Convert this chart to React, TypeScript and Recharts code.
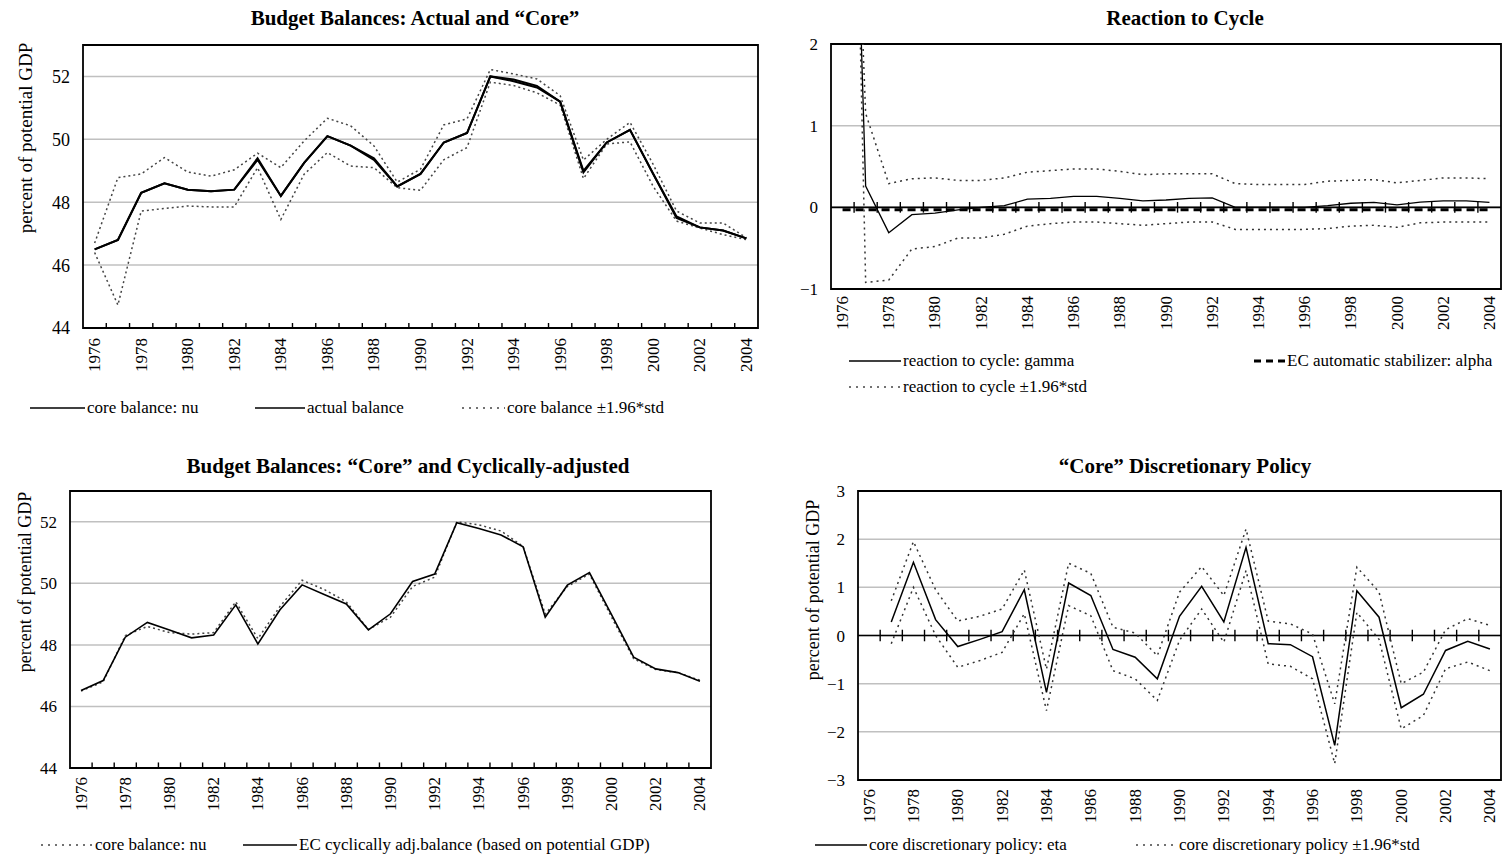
// four-panel budget balance chart

import { LineChart, Line, XAxis, YAxis, CartesianGrid, ReferenceLine, ReferenceArea } from "recharts";

const FONT = '"Liberation Serif", "Times New Roman", serif';

const years = [1976, 1977, 1978, 1979, 1980, 1981, 1982, 1983, 1984, 1985, 1986, 1987, 1988, 1989, 1990,
  1991, 1992, 1993, 1994, 1995, 1996, 1997, 1998, 1999, 2000, 2001, 2002, 2003, 2004];
const yearTicks = [1976, 1978, 1980, 1982, 1984, 1986, 1988, 1990, 1992, 1994, 1996, 1998, 2000, 2002, 2004];

// panel 1 / 3 : balances, % of potential GDP
const coreNu = [46.5, 46.8, 48.3, 48.6, 48.4, 48.35, 48.4, 49.4, 48.2, 49.25, 50.1, 49.8, 49.4, 48.5, 48.9,
  49.9, 50.2, 52.0, 51.9, 51.7, 51.2, 49.0, 49.9, 50.3, 48.9, 47.55, 47.2, 47.1, 46.85];
const actualBalance = [46.5, 46.8, 48.3, 48.6, 48.4, 48.35, 48.4, 49.35, 48.2, 49.25, 50.1, 49.8, 49.35, 48.5, 48.9,
  49.9, 50.2, 52.0, 51.85, 51.65, 51.2, 48.95, 49.9, 50.3, 48.9, 47.5, 47.2, 47.1, 46.85];
const coreUpper = [46.7, 48.78, 48.9, 49.42, 48.96, 48.83, 49.03, 49.56, 49.1, 49.95, 50.67, 50.43, 49.79, 48.64, 49.05,
  50.46, 50.65, 52.22, 52.08, 51.92, 51.39, 49.34, 50.0, 50.54, 49.2, 47.72, 47.34, 47.34, 46.87];
const coreLower = [46.4, 44.73, 47.72, 47.8, 47.88, 47.85, 47.85, 49.1, 47.45, 48.89, 49.58, 49.15, 49.1, 48.46, 48.38,
  49.35, 49.74, 51.82, 51.71, 51.48, 51.09, 48.75, 49.85, 49.92, 48.5, 47.4, 47.18, 46.97, 46.81];
const ecCab = [46.52, 46.84, 48.25, 48.73, 48.48, 48.23, 48.32, 49.3, 48.03, 49.14, 49.95, 49.64, 49.33, 48.49, 49.01,
  50.06, 50.3, 51.97, 51.78, 51.57, 51.19, 48.9, 49.94, 50.35, 48.98, 47.6, 47.22, 47.1, 46.82];

// panel 2 : reaction to cycle
const gamma = [9.6, 0.26, -0.31, -0.09, -0.07, -0.03, 0.0, 0.02, 0.1, 0.11, 0.135, 0.135, 0.11, 0.08, 0.09,
  0.11, 0.115, 0.0, 0.0, 0.0, 0.0, 0.02, 0.05, 0.06, 0.03, 0.065, 0.08, 0.08, 0.06];
const gammaUpper = [8.4, 1.15, 0.29, 0.35, 0.36, 0.33, 0.33, 0.36, 0.43, 0.45, 0.47, 0.47, 0.44, 0.4, 0.41,
  0.41, 0.41, 0.29, 0.28, 0.28, 0.28, 0.32, 0.33, 0.34, 0.3, 0.33, 0.36, 0.36, 0.35];
const gammaLower = [11.8, -0.92, -0.89, -0.51, -0.48, -0.375, -0.375, -0.33, -0.23, -0.2, -0.18, -0.18, -0.2, -0.22, -0.2,
  -0.18, -0.18, -0.27, -0.27, -0.27, -0.27, -0.26, -0.23, -0.22, -0.245, -0.19, -0.18, -0.18, -0.18];
const alpha = [-0.03, -0.03, -0.03, -0.03, -0.03, -0.03, -0.03, -0.03, -0.03, -0.03, -0.03, -0.03, -0.03, -0.03, -0.03,
  -0.03, -0.03, -0.03, -0.03, -0.03, -0.03, -0.03, -0.03, -0.03, -0.03, -0.03, -0.03, -0.03, -0.03];

// panel 4 : discretionary policy
const eta = [null, 0.28, 1.52, 0.33, -0.23, -0.08, 0.08, 0.95, -1.18, 1.09, 0.83, -0.29, -0.45, -0.9, 0.4,
  1.02, 0.28, 1.83, -0.17, -0.19, -0.44, -2.28, 0.93, 0.38, -1.5, -1.22, -0.31, -0.12, -0.28];
const etaUpper = [null, 0.72, 1.95, 0.95, 0.3, 0.4, 0.55, 1.36, -0.7, 1.5, 1.29, 0.17, 0.05, -0.42, 0.9,
  1.43, 0.83, 2.21, 0.3, 0.24, 0.03, -1.42, 1.42, 0.9, -1.0, -0.76, 0.12, 0.35, 0.21];
const etaLower = [null, -0.17, 1.0, 0.0, -0.66, -0.52, -0.35, 0.45, -1.56, 0.62, 0.41, -0.73, -0.9, -1.35, -0.1,
  0.55, -0.14, 1.35, -0.59, -0.64, -0.9, -2.66, 0.48, -0.08, -1.94, -1.66, -0.69, -0.55, -0.73];

const rows = years.map((year, i) => ({
  year,
  coreNu: coreNu[i],
  actual: actualBalance[i],
  coreUp: coreUpper[i],
  coreLo: coreLower[i],
  ecCab: ecCab[i],
  gamma: gamma[i],
  gammaUp: gammaUpper[i],
  gammaLo: gammaLower[i],
  alpha: alpha[i],
  eta: eta[i],
  etaUp: etaUpper[i],
  etaLo: etaLower[i],
}));

// category boundaries, where Excel puts its tick marks
const boundaries = years.slice(0, -1).map((y) => y + 0.5);

const fmt = (v: number) => (v < 0 ? "\u2212" + Math.abs(v) : String(v));

function YearTick({ x, y, payload }: any) {
  return (
    <text x={x} y={y} transform={`rotate(-90 ${x} ${y})`} textAnchor="end" dominantBaseline="central"
      fontSize={17} fontFamily={FONT} fill="#000">
      {payload.value}
    </text>
  );
}

// shared frame: grid, axes, border, tick marks
function frame(domain: number[], yTicks: number[], yWidth: number, xHeight: number, gap: number,
  markLo: number, markHi: number, zero: boolean, yFont: number) {
  return [
    <CartesianGrid key="grid" horizontal vertical={false} stroke="#c0c0c0" strokeWidth={1.5} />,
    <XAxis key="x" dataKey="year" type="number" domain={[1975.5, 2004.5]} ticks={yearTicks} interval={0}
      tick={(p: any) => <YearTick {...p} />} tickLine={false} axisLine={false} tickSize={0} tickMargin={gap}
      height={xHeight} allowDataOverflow />,
    <YAxis key="y" type="number" domain={domain} ticks={yTicks} interval={0} allowDataOverflow width={yWidth}
      tickLine={false} axisLine={false} tickSize={6} tickMargin={7}
      tick={{ fontSize: yFont, fill: "#000", fontFamily: FONT }} tickFormatter={fmt} />,
    <ReferenceArea key="border" x1={1975.5} x2={2004.5} y1={domain[0]} y2={domain[1]}
      fill="none" fillOpacity={0} stroke="#000" strokeWidth={1.8} />,
    zero ? <ReferenceLine key="zero" y={0} stroke="#000" strokeWidth={1.6} /> : null,
    ...boundaries.map((b) => (
      <ReferenceLine key={"m" + b} segment={[{ x: b, y: markLo }, { x: b, y: markHi }]} stroke="#000" strokeWidth={1.4} />
    )),
  ];
}

function Title({ x, y, text }: { x: number; y: number; text: string }) {
  return (
    <div style={{ position: "absolute", left: x, top: y, transform: "translate(-50%, -50%)",
      fontWeight: "bold", fontSize: 21, whiteSpace: "nowrap" }}>
      {text}
    </div>
  );
}

function VLabel({ x, y, text, size }: { x: number; y: number; text: string; size: number }) {
  return (
    <div style={{ position: "absolute", left: x, top: y, transform: "translate(-50%, -50%) rotate(-90deg)",
      fontSize: size, whiteSpace: "nowrap" }}>
      {text}
    </div>
  );
}

type Kind = "solid" | "dotted" | "dashed";

function Key({ x, y, w, kind, text }: { x: number; y: number; w: number; kind: Kind; text: string }) {
  const dash = kind === "dotted" ? "2 5" : kind === "dashed" ? "7 5" : undefined;
  return (
    <div style={{ position: "absolute", left: x, top: y, transform: "translateY(-50%)", display: "flex",
      alignItems: "center", fontSize: 17, whiteSpace: "nowrap" }}>
      <svg width={w} height={10} style={{ marginRight: 2 }}>
        <line x1={0} x2={w} y1={5} y2={5} stroke={kind === "dotted" ? "#444" : "#000"}
          strokeWidth={kind === "dashed" ? 3 : 1.5} strokeDasharray={dash} />
      </svg>
      {text}
    </div>
  );
}

const dotted = { stroke: "#444", strokeWidth: 1.5, strokeDasharray: "2 3" };

export default function App() {
  return (
    <div style={{ position: "absolute", left: 0, top: 0, width: 1506, height: 862, background: "#fff",
      fontFamily: FONT, color: "#000" }}>
      <Title x={415} y={18} text="Budget Balances: Actual and “Core”" />
      <Title x={1185} y={18} text="Reaction to Cycle" />
      <Title x={408} y={466} text="Budget Balances: “Core” and Cyclically-adjusted" />
      <Title x={1185} y={466} text="“Core” Discretionary Policy" />

      <VLabel x={26} y={138} size={19} text="percent of potential GDP" />
      <VLabel x={25} y={582} size={18} text="percent of potential GDP" />
      <VLabel x={813} y={590} size={18} text="percent of potential GDP" />

      {/* top left */}
      <div style={{ position: "absolute", left: 0, top: 0 }}>
        <LineChart width={770} height={390} data={rows} margin={{ top: 45, right: 12, bottom: 7, left: 0 }}>
          {frame([44, 53], [44, 46, 48, 50, 52], 83, 55, 10, 44, 44.16, false, 18)}
          <Line dataKey="coreUp" dot={false} isAnimationActive={false} {...dotted} />
          <Line dataKey="coreLo" dot={false} isAnimationActive={false} {...dotted} />
          <Line dataKey="actual" dot={false} isAnimationActive={false} stroke="#000" strokeWidth={2} />
          <Line dataKey="coreNu" dot={false} isAnimationActive={false} stroke="#000" strokeWidth={2} />
        </LineChart>
      </div>

      {/* top right */}
      <div style={{ position: "absolute", left: 770, top: 0 }}>
        <LineChart width={736} height={340} data={rows} margin={{ top: 44, right: 5, bottom: 3, left: 0 }}>
          {frame([-1, 2], [-1, 0, 1, 2], 61, 48, 7, -0.065, 0.065, true, 17)}
          <Line dataKey="alpha" dot={false} isAnimationActive={false} stroke="#000" strokeWidth={3} strokeDasharray="8 5" />
          <Line dataKey="gammaUp" dot={false} isAnimationActive={false} stroke="#333" strokeWidth={1.5} strokeDasharray="2 4" />
          <Line dataKey="gammaLo" dot={false} isAnimationActive={false} stroke="#333" strokeWidth={1.5} strokeDasharray="2 4" />
          <Line dataKey="gamma" dot={false} isAnimationActive={false} stroke="#000" strokeWidth={1.3} />
        </LineChart>
      </div>

      {/* bottom left */}
      <div style={{ position: "absolute", left: 0, top: 450 }}>
        <LineChart width={760} height={380} data={rows} margin={{ top: 41, right: 49, bottom: 7, left: 0 }}>
          {frame([44, 53], [44, 46, 48, 50, 52], 70, 55, 9, 44, 44.18, false, 17)}
          <Line dataKey="coreNu" dot={false} isAnimationActive={false} {...dotted} />
          <Line dataKey="ecCab" dot={false} isAnimationActive={false} stroke="#000" strokeWidth={1.6} />
        </LineChart>
      </div>

      {/* bottom right */}
      <div style={{ position: "absolute", left: 770, top: 450 }}>
        <LineChart width={736} height={380} data={rows} margin={{ top: 41, right: 5, bottom: 5, left: 0 }}>
          {frame([-3, 3], [-3, -2, -1, 0, 1, 2, 3], 88, 45, 9, -0.12, 0.12, true, 17)}
          <Line dataKey="etaUp" dot={false} isAnimationActive={false} stroke="#333" strokeWidth={1.5} strokeDasharray="2 4" />
          <Line dataKey="etaLo" dot={false} isAnimationActive={false} stroke="#333" strokeWidth={1.5} strokeDasharray="2 4" />
          <Line dataKey="eta" dot={false} isAnimationActive={false} stroke="#000" strokeWidth={1.5} />
        </LineChart>
      </div>

      {/* legends */}
      <Key x={30} y={408} w={55} kind="solid" text="core balance: nu" />
      <Key x={255} y={408} w={50} kind="solid" text="actual balance" />
      <Key x={462} y={408} w={43} kind="dotted" text="core balance ±1.96*std" />

      <Key x={849} y={361} w={52} kind="solid" text="reaction to cycle: gamma" />
      <Key x={1254} y={361} w={31} kind="dashed" text="EC automatic stabilizer: alpha" />
      <Key x={849} y={387} w={52} kind="dotted" text="reaction to cycle ±1.96*std" />

      <Key x={41} y={845} w={52} kind="dotted" text="core balance: nu" />
      <Key x={243} y={845} w={54} kind="solid" text="EC cyclically adj.balance (based on potential GDP)" />

      <Key x={815} y={845} w={52} kind="solid" text="core discretionary policy: eta" />
      <Key x={1136} y={845} w={41} kind="dotted" text="core discretionary policy ±1.96*std" />
    </div>
  );
}
